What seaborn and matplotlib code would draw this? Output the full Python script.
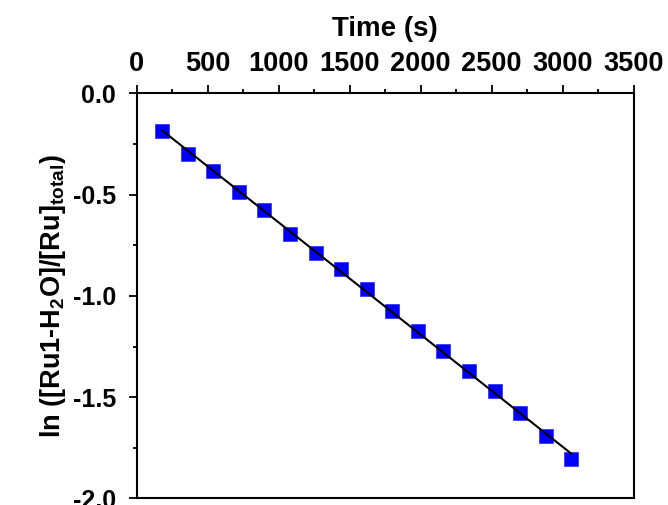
import numpy as np
import pandas as pd
import matplotlib
matplotlib.use('Agg')
import matplotlib.pyplot as plt
from matplotlib.ticker import MultipleLocator
import seaborn as sns

# data
time_s = [180, 360, 540, 720, 900, 1080, 1260, 1440, 1620,
          1800, 1980, 2160, 2340, 2520, 2700, 2880, 3060]
ln_ratio = [-0.185, -0.30, -0.383, -0.487, -0.577, -0.695, -0.786, -0.867, -0.965,
            -1.074, -1.171, -1.27, -1.37, -1.47, -1.58, -1.69, -1.805]

x_ticks = [0, 500, 1000, 1500, 2000, 2500, 3000, 3500]
y_ticks = [0.0, -0.5, -1.0, -1.5, -2.0]

df = pd.DataFrame({'t': time_s, 'y': ln_ratio})
slope, icpt = np.polyfit(df['t'], df['y'], 1)
df['fit'] = slope * df['t'] + icpt

sns.set_style('ticks')
plt.rcParams['font.family'] = ['Liberation Sans', 'DejaVu Sans']
plt.rcParams['font.weight'] = 'bold'
plt.rcParams['mathtext.default'] = 'regular'
for key in ['text.color', 'axes.labelcolor', 'xtick.color', 'ytick.color', 'axes.edgecolor']:
    plt.rcParams[key] = 'black'

fig = plt.figure(figsize=(6.68, 5.05), dpi=100)
ax = fig.add_axes([0.2046, 0.0129, 0.744, 0.8024])

sns.scatterplot(data=df, x='t', y='y', marker='s', s=110, color='#0000ff',
                edgecolor='#2a2aff', linewidth=0.5, ax=ax, zorder=2)
sns.lineplot(data=df, x='t', y='fit', color='black', linewidth=1.5, ax=ax, zorder=3)

ax.set_xlim(0, 3500)
ax.set_ylim(-2.0, 0.0)
ax.set_xticks(x_ticks)
ax.set_yticks(y_ticks)
ax.set_yticklabels([f'{v:.1f}' for v in y_ticks])
ax.xaxis.set_minor_locator(MultipleLocator(250))
ax.yaxis.set_minor_locator(MultipleLocator(0.25))

ax.xaxis.tick_top()
ax.xaxis.set_label_position('top')
ax.tick_params(axis='x', which='both', top=True, bottom=False, direction='out')
ax.tick_params(axis='y', which='both', left=True, right=False, direction='out')
ax.tick_params(which='major', length=6, width=1.3)
ax.tick_params(which='minor', length=3.2, width=1.3)
ax.tick_params(axis='x', which='major', labelsize=19.5, pad=5.5)
ax.tick_params(axis='y', which='major', labelsize=18, pad=9)

for sp in ax.spines.values():
    sp.set_visible(True)
    sp.set_linewidth(1.5)
    sp.set_color('black')

ax.set_xlabel('Time (s)', fontsize=20, fontweight='bold', labelpad=11)
ax.set_ylabel(r'ln ([Ru1-H$_2$O]/[Ru]$_{total}$)', fontsize=19.5, fontweight='bold', labelpad=3)

for lbl in ax.get_xticklabels() + ax.get_yticklabels():
    lbl.set_fontweight('bold')

fig.savefig('out.png', dpi=100)
